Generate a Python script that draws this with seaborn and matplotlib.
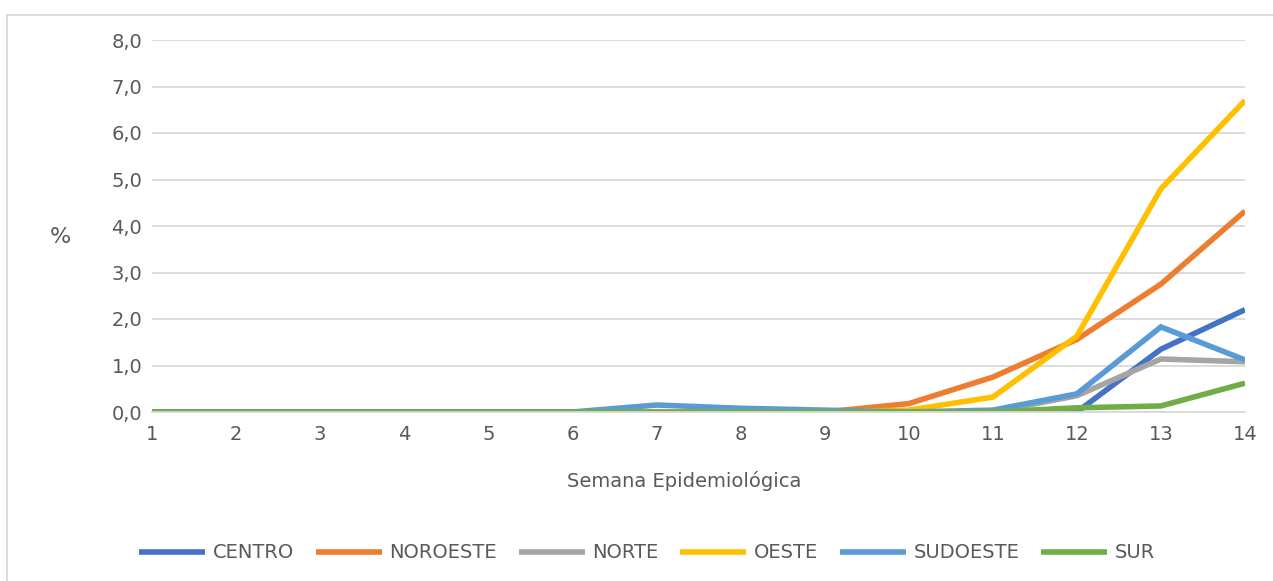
import numpy as np
import pandas as pd
import matplotlib
matplotlib.use("Agg")
import matplotlib.pyplot as plt
import seaborn as sns
from matplotlib.patches import Rectangle
from matplotlib.ticker import FuncFormatter

semanas = list(range(1, 15))
centro   = [0, 0, 0, 0, 0, 0, 0, 0, 0, 0, 0, 0.0, 1.35, 2.2]
noroeste = [0, 0, 0, 0, 0, 0, 0, 0, 0, 0.18, 0.75, 1.56, 2.75, 4.32]
norte    = [0, 0, 0, 0, 0, 0, 0, 0, 0, 0, 0, 0.35, 1.14, 1.08]
oeste    = [0, 0, 0, 0, 0, 0, 0, 0, 0, 0.04, 0.32, 1.63, 4.8, 6.7]
sudoeste = [0, 0, 0, 0, 0, 0, 0.15, 0.08, 0.04, 0, 0.04, 0.39, 1.83, 1.12]
sur      = [0, 0, 0, 0, 0, 0, 0, 0, 0, 0, 0, 0.09, 0.13, 0.62]

regiones = ["CENTRO", "NOROESTE", "NORTE", "OESTE", "SUDOESTE", "SUR"]
colores = ["#4472C4", "#ED7D31", "#A5A5A5", "#FFC000", "#5B9BD5", "#70AD47"]
series = [centro, noroeste, norte, oeste, sudoeste, sur]

df = pd.DataFrame({
    "Semana": semanas * len(regiones),
    "Valor": sum(series, []),
    "Region": sum([[r] * len(semanas) for r in regiones], []),
})

sns.set_theme(style="white")
plt.rcParams['font.family'] = ['DejaVu Sans']
txt = "#595959"
fs = 14

fig = plt.figure(figsize=(12.73, 5.81), dpi=100)
ax = fig.add_axes([152/1273, 1-412/581, (1245-152)/1273, (412-40)/581])

sns.lineplot(data=df, x="Semana", y="Valor", hue="Region",
             palette=dict(zip(regiones, colores)), linewidth=4.0,
             ax=ax, legend=True)
for ln in ax.get_lines():
    ln.set_solid_capstyle("butt")
    ln.set_solid_joinstyle("miter")

ax.set_xlim(1, 14)
ax.set_ylim(0, 8)
ax.set_xticks(semanas)
ax.set_yticks(np.arange(0, 9, 1))
ax.yaxis.set_major_formatter(FuncFormatter(lambda v, p: f"{v:.1f}".replace(".", ",")))
ax.grid(axis="y", color="#D9D9D9", linewidth=1.3)
ax.set_axisbelow(True)
for s in ["top", "right", "left"]:
    ax.spines[s].set_visible(False)
ax.spines["bottom"].set_color("#D9D9D9")
ax.spines["bottom"].set_linewidth(1.3)
ax.tick_params(axis="both", colors=txt, labelsize=fs, length=0)
ax.tick_params(axis="y", pad=7)
ax.tick_params(axis="x", pad=9)
ax.set_xlabel("")
ax.set_ylabel("")
fig.text(684/1273, 1-481/581, "Semana Epidemiológica", color=txt, fontsize=fs,
         ha="center", va="center")
fig.text(60/1273, 1-237/581, "%", color=txt, fontsize=16, ha="center", va="center")

handles, labels = ax.get_legend_handles_labels()
for h in handles:
    h.set_linewidth(4.0)
    h.set_solid_capstyle("butt")
ax.legend(handles, labels, loc="center", bbox_to_anchor=(647/1273, 1-553/581),
          bbox_transform=fig.transFigure, ncol=6, frameon=False,
          fontsize=fs, labelcolor=txt, handlelength=3.4, columnspacing=1.1,
          handletextpad=0.4)

fig.patches.append(Rectangle((7/1273, -0.01), 1.0, 1.01-15/581,
                             transform=fig.transFigure, fill=False,
                             edgecolor="#D9D9D9", linewidth=1.3))

fig.savefig("out.png", dpi=100)
